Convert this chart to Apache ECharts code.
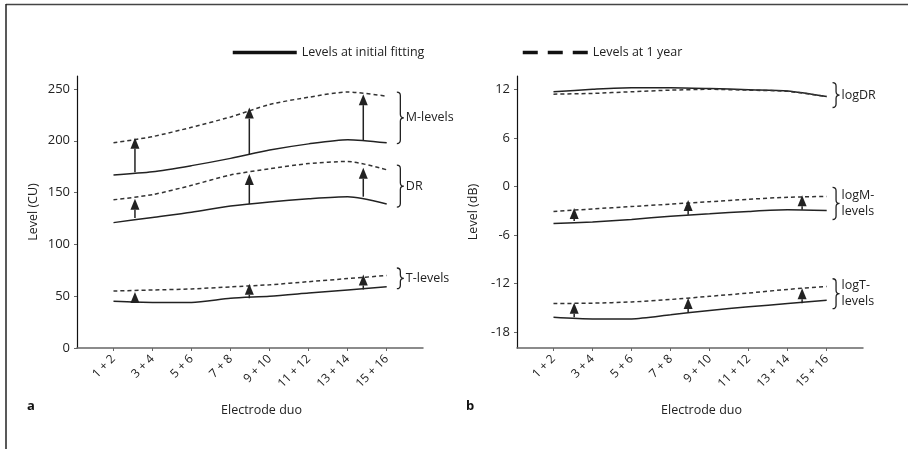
<!DOCTYPE html>
<html>
<head>
<meta charset="utf-8">
<script src="https://cdn.jsdelivr.net/npm/echarts@6/dist/echarts.min.js"></script>
<style>html,body{margin:0;padding:0;background:#fff}#c{width:908px;height:449px}</style>
</head>
<body>
<div id="c"></div>
<script>
// ---------- data ----------
const categories = ['1 + 2', '3 + 4', '5 + 6', '7 + 8', '9 + 10', '11 + 12', '13 + 14', '15 + 16'];
const cuTicks = [0, 50, 100, 150, 200, 250];
const dbTicks = [-18, -12, -6, 0, 6, 12];

// panel a (CU)
const mInitial = [167, 170, 176, 183, 191, 197, 201, 198];
const mYear    = [198, 204, 213, 223, 235, 242, 247, 243];
const drInitial = [121, 126, 131, 137, 141, 144, 146, 139];
const drYear    = [143, 148, 157, 167, 173, 178, 180, 172];
const tInitial = [45, 44, 44, 48, 50, 53, 56, 59];
const tYear    = [55, 56, 57, 59, 61, 64, 67, 70];

// panel b (dB)
const logDrInitial = [11.7, 12.0, 12.2, 12.2, 12.1, 11.95, 11.8, 11.1];
const logDrYear    = [11.4, 11.5, 11.7, 11.9, 12.0, 11.9, 11.75, 11.1];
const logMInitial = [-4.6, -4.4, -4.1, -3.7, -3.4, -3.1, -2.9, -3.0];
const logMYear    = [-3.1, -2.8, -2.5, -2.2, -1.9, -1.6, -1.35, -1.25];
const logTInitial = [-16.2, -16.4, -16.4, -15.9, -15.35, -14.9, -14.5, -14.1];
const logTYear    = [-14.5, -14.45, -14.3, -14.0, -13.6, -13.2, -12.75, -12.4];

// arrows: [x position (electrode index), from, to]
const arrowsA = [
  [1.55, 169.5, 203], [4.48, 187, 232], [7.4, 200.5, 245],
  [1.55, 125.5, 144], [4.48, 139, 168], [7.4, 146, 174],
  [1.55, 45, 54], [4.48, 48, 62], [7.4, 56.5, 71]
];
const arrowsB = [
  [1.53, -4.3, -2.67], [4.45, -3.5, -1.68], [7.37, -2.9, -1.1],
  [1.53, -16.2, -14.4], [4.45, -15.6, -13.8], [7.37, -14.45, -12.6]
];
// braces: [x position, low, high, label]
const bracesA = [
  [8.26, 197.3, 247, 'M-levels'],
  [8.26, 136, 176.4, 'DR'],
  [8.26, 57.3, 77.2, 'T-levels']
];
const bracesB = [
  [8.15, 9.75, 12.84, 'logDR'],
  [8.15, -4.1, -0.12, 'logM-\nlevels'],
  [8.15, -15.14, -11.43, 'logT-\nlevels']
];

// ---------- chart ----------
const FONT = 'Open Sans';
const chart = echarts.init(document.getElementById('c'), null, {renderer: 'canvas'});
const toPts = arr => arr.map((v, i) => [i + 1, v]);
const tickIdx = categories.map((_, i) => i + 1);

function lineSeries(name, data, dashed, gi) {
  return {
    type: 'line', name: name, xAxisIndex: gi, yAxisIndex: gi,
    data: toPts(data), symbol: 'none', smooth: 0.25, silent: true,
    itemStyle: {color: '#222', opacity: 0},
    lineStyle: dashed ? {color: '#333', width: 1.5, type: [4, 3]} : {color: '#222', width: 1.5},
    z: 3
  };
}

function arrowSeries(data, gi) {
  return {
    type: 'custom', xAxisIndex: gi, yAxisIndex: gi, data: data, silent: true, z: 4,
    renderItem: function (params, api) {
      const p0 = api.coord([api.value(0), api.value(1)]);
      const p1 = api.coord([api.value(0), api.value(2)]);
      const headH = 11, headW = 9;
      const children = [];
      if (p0[1] - p1[1] > headH) {
        children.push({type: 'line', shape: {x1: p0[0], y1: p0[1], x2: p0[0], y2: p1[1] + headH},
          style: {stroke: '#222', lineWidth: 1.5}});
      }
      children.push({type: 'polygon', shape: {points: [[p1[0], p1[1]], [p1[0] - headW / 2, p1[1] + headH], [p1[0] + headW / 2, p1[1] + headH]]},
        style: {fill: '#222'}});
      return {type: 'group', children: children};
    }
  };
}

function braceSeries(data, gi) {
  return {
    type: 'custom', xAxisIndex: gi, yAxisIndex: gi, data: data, silent: true, z: 4,
    dimensions: ['x', 'lo', 'hi', 'label'],
    renderItem: function (params, api) {
      const x = api.coord([api.value(0), api.value(2)])[0];
      const top = api.coord([api.value(0), api.value(2)])[1];
      const bot = api.coord([api.value(0), api.value(1)])[1];
      const mid = (top + bot) / 2;
      const w = 7, r = 3.5, h = w / 2;
      const path = 'M' + x + ' ' + top +
        ' Q' + (x + h) + ' ' + top + ' ' + (x + h) + ' ' + (top + r) +
        ' L' + (x + h) + ' ' + (mid - r) +
        ' Q' + (x + h) + ' ' + mid + ' ' + (x + w) + ' ' + mid +
        ' Q' + (x + h) + ' ' + mid + ' ' + (x + h) + ' ' + (mid + r) +
        ' L' + (x + h) + ' ' + (bot - r) +
        ' Q' + (x + h) + ' ' + bot + ' ' + x + ' ' + bot;
      const label = data[params.dataIndex][3];
      return {type: 'group', children: [
        {type: 'path', shape: {pathData: path}, style: {stroke: '#222', lineWidth: 1.3, fill: null}},
        {type: 'text', style: {text: label, x: x + w + 2, y: mid, align: 'left', verticalAlign: 'middle',
          font: '12.5px "' + FONT + '"', fill: '#222', lineHeight: 16}}
      ]};
    }
  };
}

function xAxis(gi) {
  return {
    type: 'value', gridIndex: gi, min: 0.065, max: 8.93,
    axisLine: {show: true, onZero: false, lineStyle: {color: '#666', width: 1.5}},
    axisTick: {show: true, customValues: tickIdx, length: 3, lineStyle: {color: '#666'}},
    axisLabel: {customValues: tickIdx, rotate: 45, margin: 9, color: '#222', fontSize: 12, fontFamily: FONT,
      formatter: v => categories[Math.round(v) - 1] || ''},
    splitLine: {show: false},
    name: 'Electrode duo', nameLocation: 'middle', nameGap: 56,
    nameTextStyle: {color: '#222', fontSize: 12.5, fontFamily: FONT, padding: [0, 0, 0, 23]}
  };
}

function yAxis(gi, min, max, ticks, name) {
  return {
    type: 'value', gridIndex: gi, min: min, max: max,
    axisLine: {show: true, onZero: false, lineStyle: {color: '#111', width: 1.2}},
    axisTick: {show: true, customValues: ticks, length: 3, lineStyle: {color: '#666'}},
    axisLabel: {customValues: ticks, color: '#222', fontSize: 13, fontFamily: FONT, margin: 7},
    splitLine: {show: false},
    name: name, nameLocation: 'middle', nameGap: 37, nameRotate: 90,
    nameTextStyle: {color: '#222', fontSize: 12.5, fontFamily: FONT}
  };
}

const option = {
  backgroundColor: '#fff',
  animation: false,
  grid: [
    {left: 77, top: 76, width: 346, height: 272},
    {left: 517, top: 76, width: 346, height: 272}
  ],
  legend: [
    {data: ['Levels at initial fitting'], left: 226, top: 41, itemWidth: 64, itemHeight: 14, itemGap: 8,
      selectedMode: false, textStyle: {fontSize: 12.5, fontFamily: FONT, color: '#222'},
      itemStyle: {opacity: 0},
      lineStyle: {width: 3.5, color: '#111', type: 'solid'}},
    {data: ['Levels at 1 year'], left: 516, top: 41, itemWidth: 65, itemHeight: 14, itemGap: 6,
      selectedMode: false, textStyle: {fontSize: 12.5, fontFamily: FONT, color: '#222'},
      itemStyle: {opacity: 0},
      lineStyle: {width: 3.5, color: '#111', type: [15, 10]}}
  ],
  xAxis: [xAxis(0), xAxis(1)],
  yAxis: [yAxis(0, 0, 262.5, cuTicks, 'Level (CU)'), yAxis(1, -20, 13.65, dbTicks, 'Level (dB)')],
  series: [
    lineSeries('Levels at initial fitting', mInitial, false, 0),
    lineSeries('Levels at 1 year', mYear, true, 0),
    lineSeries('Levels at initial fitting', drInitial, false, 0),
    lineSeries('Levels at 1 year', drYear, true, 0),
    lineSeries('Levels at initial fitting', tInitial, false, 0),
    lineSeries('Levels at 1 year', tYear, true, 0),
    lineSeries('Levels at initial fitting', logDrInitial, false, 1),
    lineSeries('Levels at 1 year', logDrYear, true, 1),
    lineSeries('Levels at initial fitting', logMInitial, false, 1),
    lineSeries('Levels at 1 year', logMYear, true, 1),
    lineSeries('Levels at initial fitting', logTInitial, false, 1),
    lineSeries('Levels at 1 year', logTYear, true, 1),
    arrowSeries(arrowsA, 0),
    arrowSeries(arrowsB, 1),
    braceSeries(bracesA, 0),
    braceSeries(bracesB, 1)
  ],
  graphic: [
    {type: 'line', shape: {x1: 6, y1: 4.5, x2: 908, y2: 4.5}, style: {stroke: '#444', lineWidth: 1.5}, silent: true},
    {type: 'line', shape: {x1: 6, y1: 4, x2: 6, y2: 449}, style: {stroke: '#222', lineWidth: 1.5}, silent: true},
    {type: 'text', left: 27, top: 400, style: {text: 'a', font: 'bold 13px "' + FONT + '"', fill: '#111'}, silent: true},
    {type: 'text', left: 466, top: 400, style: {text: 'b', font: 'bold 13px "' + FONT + '"', fill: '#111'}, silent: true}
  ]
};
chart.setOption(option);
</script>
</body>
</html>
